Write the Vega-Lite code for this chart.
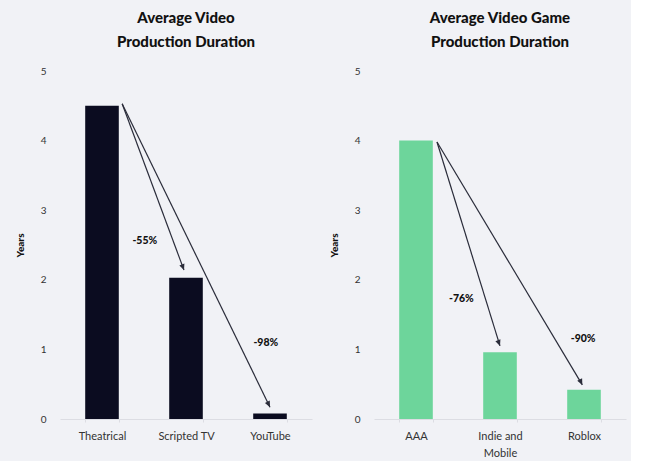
{
  "$schema": "https://vega.github.io/schema/vega-lite/v6.json",
  "background": "#f1f2f6",
  "padding": {"left": 15, "top": 11, "right": 5, "bottom": 4},
  "spacing": 17,
  "config": {
    "font": "Lato",
    "view": {"stroke": null},
    "title": {"font": "Lato", "fontSize": 15, "fontWeight": 900, "color": "#111111", "lineHeight": 24, "anchor": "middle", "offset": 16},
    "axisY": {"labelFont": "Lato", "labelFontSize": 10, "labelColor": "#333333", "labelPadding": 14, "domain": false, "ticks": false, "grid": false, "titleFont": "Lato", "titleFontSize": 10, "titleFontWeight": 900, "titleColor": "#111111", "titlePadding": 15},
    "axisX": {"labelFont": "Lato", "labelFontSize": 11, "labelColor": "#333333", "labelAngle": 0, "labelPadding": 8, "labelLineHeight": 17, "domainColor": "#dcdde3", "tickColor": "#dcdde3", "tickSize": 3, "tickBand": "extent", "title": null, "grid": false}
  },
  "datasets": {
    "video": [
      {"category": "Theatrical", "years": 4.5},
      {"category": "Scripted TV", "years": 2.03},
      {"category": "YouTube", "years": 0.08}
    ],
    "videoArrows": [
      {"id": "a", "x": 0.74, "y": 4.53, "x2": 1.476, "y2": 2.14, "label": "-55%", "lx": 1.01, "ly": 2.56},
      {"id": "b", "x": 0.74, "y": 4.53, "x2": 2.5, "y2": 0.17, "label": "-98%", "lx": 2.45, "ly": 1.09}
    ],
    "game": [
      {"category": "AAA", "years": 4.0},
      {"category": "Indie and Mobile", "years": 0.96},
      {"category": "Roblox", "years": 0.42}
    ],
    "gameArrows": [
      {"id": "a", "x": 0.75, "y": 3.98, "x2": 1.5, "y2": 1.05, "label": "-76%", "lx": 1.04, "ly": 1.72},
      {"id": "b", "x": 0.75, "y": 3.98, "x2": 2.48, "y2": 0.49, "label": "-90%", "lx": 2.49, "ly": 1.15}
    ]
  },
  "hconcat": [
    {
      "title": {"text": ["Average Video", "Production Duration"]},
      "width": 252,
      "height": 348,
      "resolve": {"scale": {"x": "independent"}},
      "layer": [
        {
          "data": {"name": "video"},
          "mark": {"type": "bar", "color": "#0b0c20"},
          "encoding": {
            "x": {"field": "category", "type": "nominal", "sort": null, "scale": {"paddingInner": 0.6, "paddingOuter": 0.3}},
            "y": {"field": "years", "type": "quantitative", "title": "Years", "scale": {"domain": [0, 5], "nice": false}, "axis": {"values": [0, 1, 2, 3, 4, 5], "format": "d"}}
          }
        },
        {
          "layer": [
            {
              "data": {"name": "videoArrows"},
              "mark": {"type": "rule", "color": "#2a2c3a", "strokeWidth": 1.2},
              "encoding": {
                "x": {"field": "x", "type": "quantitative", "scale": {"domain": [0, 3], "nice": false, "zero": false}, "axis": null},
                "y": {"field": "y", "type": "quantitative"},
                "x2": {"field": "x2"},
                "y2": {"field": "y2"}
              }
            },
            {
              "data": {"name": "videoArrows"},
              "mark": {"type": "point", "shape": "M0,0L-0.45,-1L0.45,-1Z", "filled": true, "color": "#2a2c3a", "size": 144, "opacity": 1},
              "encoding": {
                "x": {"field": "x2", "type": "quantitative", "scale": {"domain": [0, 3], "nice": false, "zero": false}, "axis": null},
                "y": {"field": "y2", "type": "quantitative"},
                "angle": {"field": "id", "type": "nominal", "scale": {"type": "ordinal", "domain": ["a", "b"], "range": [339.5, 334]}, "legend": null}
              }
            },
            {
              "data": {"name": "videoArrows"},
              "mark": {"type": "text", "font": "Lato", "fontSize": 10.5, "fontWeight": 900, "color": "#111111"},
              "encoding": {
                "x": {"field": "lx", "type": "quantitative", "scale": {"domain": [0, 3], "nice": false, "zero": false}, "axis": null},
                "y": {"field": "ly", "type": "quantitative"},
                "text": {"field": "label"}
              }
            }
          ]
        }
      ]
    },
    {
      "title": {"text": ["Average Video Game", "Production Duration"]},
      "width": 252,
      "height": 348,
      "resolve": {"scale": {"x": "independent"}},
      "layer": [
        {
          "data": {"name": "game"},
          "mark": {"type": "bar", "color": "#6dd59b"},
          "encoding": {
            "x": {"field": "category", "type": "nominal", "sort": null, "scale": {"paddingInner": 0.6, "paddingOuter": 0.3}, "axis": {"labelExpr": "datum.value == 'Indie and Mobile' ? ['Indie and', 'Mobile'] : datum.label"}},
            "y": {"field": "years", "type": "quantitative", "title": "Years", "scale": {"domain": [0, 5], "nice": false}, "axis": {"values": [0, 1, 2, 3, 4, 5], "format": "d"}}
          }
        },
        {
          "layer": [
            {
              "data": {"name": "gameArrows"},
              "mark": {"type": "rule", "color": "#2a2c3a", "strokeWidth": 1.2},
              "encoding": {
                "x": {"field": "x", "type": "quantitative", "scale": {"domain": [0, 3], "nice": false, "zero": false}, "axis": null},
                "y": {"field": "y", "type": "quantitative"},
                "x2": {"field": "x2"},
                "y2": {"field": "y2"}
              }
            },
            {
              "data": {"name": "gameArrows"},
              "mark": {"type": "point", "shape": "M0,0L-0.45,-1L0.45,-1Z", "filled": true, "color": "#2a2c3a", "size": 144, "opacity": 1},
              "encoding": {
                "x": {"field": "x2", "type": "quantitative", "scale": {"domain": [0, 3], "nice": false, "zero": false}, "axis": null},
                "y": {"field": "y2", "type": "quantitative"},
                "angle": {"field": "id", "type": "nominal", "scale": {"type": "ordinal", "domain": ["a", "b"], "range": [343, 329]}, "legend": null}
              }
            },
            {
              "data": {"name": "gameArrows"},
              "mark": {"type": "text", "font": "Lato", "fontSize": 10.5, "fontWeight": 900, "color": "#111111"},
              "encoding": {
                "x": {"field": "lx", "type": "quantitative", "scale": {"domain": [0, 3], "nice": false, "zero": false}, "axis": null},
                "y": {"field": "ly", "type": "quantitative"},
                "text": {"field": "label"}
              }
            }
          ]
        }
      ]
    }
  ]
}
